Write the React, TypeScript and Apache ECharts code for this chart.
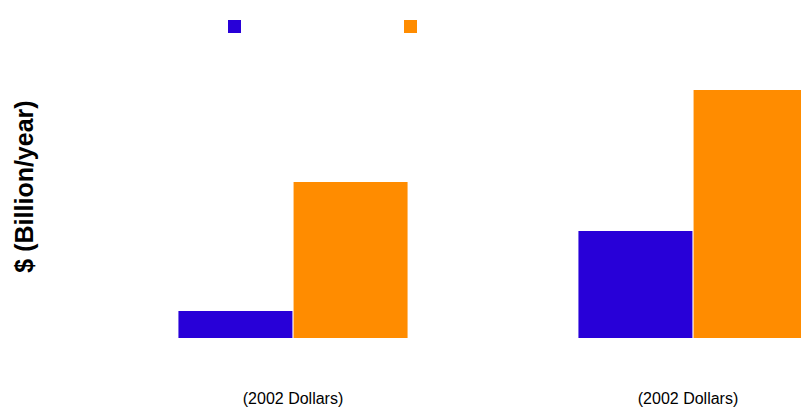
import React, { useEffect, useRef } from "react";
import * as echarts from "echarts";

const categories = ["(2002 Dollars)", "(2002 Dollars)"];
const seriesNames = ["Series A", "Series B"];
const seriesA = [2.7, 10.7];
const seriesB = [15.6, 24.8];
const yName = "$ (Billion/year)";

export default function App() {
  const ref = useRef<HTMLDivElement>(null);
  useEffect(() => {
    if (!ref.current) return;
    const chart = echarts.init(ref.current, null, { renderer: "svg" });
    chart.setOption({
      animation: false,
      textStyle: { fontFamily: "Liberation Sans, Arial, sans-serif" },
      legend: {
        left: 223,
        top: 15,
        itemWidth: 13,
        itemHeight: 13,
        itemGap: 163,
        icon: "rect",
        formatter: () => "",
        data: seriesNames,
      },
      grid: { left: 93, right: 7, top: 35, bottom: 70, containLabel: false, outerBoundsMode: "none" },
      xAxis: {
        type: "category",
        data: categories.map((c, i) =>
          i === categories.length - 1 ? { value: c, textStyle: { padding: [0, 10, 0, 0] } } : c
        ),
        axisLine: { show: false },
        axisTick: { show: false },
        axisLabel: { color: "#000", fontSize: 16, margin: 52 },
      },
      yAxis: {
        type: "value",
        min: 0,
        max: 30.3,
        axisLine: { show: false },
        axisTick: { show: false },
        axisLabel: { show: false },
        splitLine: { show: false },
        name: yName,
        nameLocation: "middle",
        nameGap: 57,
        nameTextStyle: { color: "#000", fontSize: 25, fontWeight: "bold" },
      },
      series: [
        {
          name: seriesNames[0],
          type: "bar",
          data: seriesA,
          barWidth: 114,
          barGap: "1%",
          itemStyle: { color: "#2800d8" },
        },
        {
          name: seriesNames[1],
          type: "bar",
          data: seriesB,
          barWidth: 114,
          barGap: "1%",
          itemStyle: { color: "#ff8c00" },
        },
      ],
    });
    return () => chart.dispose();
  }, []);
  return (
    <div style={{ position: "absolute", left: 0, top: 0, width: 801, height: 408, overflow: "hidden", background: "#fff" }}>
      <div ref={ref} style={{ width: 900, height: 408 }} />
    </div>
  );
}
